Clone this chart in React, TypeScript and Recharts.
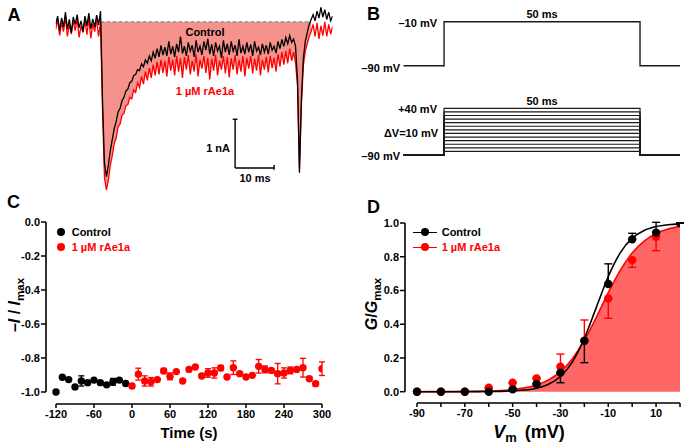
// Figure: rAe1a effect on Nav currents (panels A-D)

import React from 'react';
import {
  ComposedChart,
  LineChart,
  Line,
  Area,
  Scatter,
  ErrorBar,
  XAxis,
  YAxis,
  ReferenceLine,
} from 'recharts';

const FONT = '"Liberation Sans", Arial, Helvetica, sans-serif';
const RED = '#ff0000';
const BLACK = '#000000';

// ---- A: current traces (nA), one sample every 0.5 ms ----
const A_DT = 0.5;
const aControl = [
  -0.05, 0.12, -0.18, 0.08, -0.1, 0.2, -0.15, 0.05, -0.22, 0.1, -0.05, 0.15, -0.12, 0.02, -0.2, 0.12,
  -0.08, 0.18, -0.14, 0.06, -0.1, 0.14, -0.06, 0.22,
  -1.6, -2.9, -3.18, -2.95, -2.65, -2.42, -2.2, -2.05, -1.85, -1.78, -1.62, -1.55, -1.42, -1.38, -1.25,
  -1.22, -1.1, -1.08, -0.98, -1.0, -0.86, -0.92, -0.78, -0.85, -0.7, -0.8, -0.62, -0.75, -0.55, -0.72,
  -0.48, -0.68, -0.52, -0.7, -0.4, -0.66, -0.5, -0.72, -0.45, -0.62,
  -0.3, -0.65, -0.5, -0.7, -0.42, -0.6, -0.48, -0.72, -0.38, -0.62, -0.5, -0.68, -0.4, -0.58, -0.35,
  -0.66, -0.46, -0.7, -0.42, -0.6, -0.5, -0.74, -0.38, -0.62, -0.45, -0.68, -0.4, -0.6, -0.48, -0.7,
  -0.36, -0.64, -0.5, -0.66, -0.42, -0.62, -0.46, -0.7, -0.4, -0.6, -0.52, -0.68, -0.45, -0.62, -0.48,
  -0.66, -0.42, -0.58, -0.5, -0.64, -0.4, -0.55, -0.36, -0.5, -0.32, -0.45, -0.28, -0.42, -0.35, -0.5,
  -1.2, -3.1, -1.6, -0.75, -0.4, -0.22, -0.05, 0.05, 0.15, 0.02, 0.22, 0.08, 0.3, 0.1, 0.25, 0.05, 0.2,
  0.02, 0.12,
];
const aToxin = [
  -0.15, 0.05, -0.28, -0.02, -0.2, 0.1, -0.3, -0.05, -0.25, 0.02, -0.18, 0.06, -0.32, -0.08, -0.22,
  0.04, -0.26, 0.08, -0.34, -0.04, -0.2, 0.05, -0.3, 0.0,
  -1.8, -3.2, -3.45, -3.25, -2.95, -2.75, -2.5, -2.38, -2.15, -2.1, -1.92, -1.88, -1.72, -1.7, -1.55,
  -1.58, -1.4, -1.45, -1.25, -1.35, -1.12, -1.28, -1.02, -1.2, -0.95, -1.15, -0.88, -1.1, -0.82, -1.08,
  -0.78, -1.05, -0.8, -1.12, -0.72, -1.0, -0.78, -1.1, -0.7, -1.02,
  -0.75, -1.15, -0.72, -0.98, -0.68, -1.08, -0.8, -1.02, -0.66, -1.12, -0.78, -0.96, -0.7, -1.05,
  -0.74, -1.18, -0.76, -1.0, -0.68, -1.1, -0.8, -0.98, -0.7, -1.06, -0.72, -1.14, -0.75, -0.98, -0.68,
  -1.08, -0.78, -1.02, -0.7, -1.12, -0.74, -0.96, -0.7, -1.06, -0.76, -1.0, -0.68, -1.1, -0.78, -0.98,
  -0.72, -1.04, -0.7, -0.95, -0.74, -1.02, -0.66, -0.92, -0.62, -0.88, -0.6, -0.85, -0.55, -0.8,
  -0.62, -0.85,
  -1.3, -3.0, -1.7, -0.9, -0.6, -0.45, -0.3, -0.2, -0.05, -0.3, -0.02, -0.35, -0.08, -0.28, 0.0, -0.3,
  -0.05, -0.25, -0.1,
];
const aFillFrom = 11.5; // ms, shaded window
const aFillTo = 65.5;

// ---- B: voltage protocols ----
const bTimes = [0, 10.4, 60.4, 70.6]; // ms
const bHolding = -90;
const bTestPulse = -10;
const bFamilyLevels = [-80, -70, -60, -50, -40, -30, -20, -10, 0, 10, 20, 30, 40];

// ---- C: time course ----
const cTimeControl = [-120, -110, -100, -90, -80, -70, -60, -50, -40, -30, -20, -10];
const cControl = [-1.0, -0.913, -0.927, -0.97, -0.935, -0.945, -0.93, -0.945, -0.958, -0.94, -0.93, -0.95];
const cControlErr = [0, 0, 0, 0, 0.03, 0, 0, 0, 0, 0.02, 0, 0];
const cTimeToxin = [
  0, 10, 20, 30, 40, 50, 60, 70, 80, 90, 100, 110, 120, 130, 140, 150, 160, 170, 180, 190, 200, 210,
  220, 230, 240, 250, 260, 270, 280, 290, 300,
];
const cToxin = [
  -0.965, -0.895, -0.935, -0.94, -0.927, -0.876, -0.908, -0.88, -0.935, -0.867, -0.853, -0.906, -0.888,
  -0.888, -0.859, -0.912, -0.857, -0.892, -0.912, -0.902, -0.849, -0.867, -0.873, -0.892, -0.888,
  -0.873, -0.867, -0.857, -0.922, -0.951, -0.863,
];
const cToxinErr = [
  0.012, 0.035, 0.03, 0.025, 0, 0.015, 0.02, 0, 0, 0, 0, 0, 0.025, 0.03, 0.015, 0, 0.04, 0, 0, 0, 0.04,
  0.02, 0, 0.06, 0.03, 0.02, 0, 0.055, 0, 0.012, 0.04,
];
const cXTicks = [-120, -60, 0, 60, 120, 180, 240, 300];
const cYTicks = [0, -0.2, -0.4, -0.6, -0.8, -1.0];

// ---- D: G-V relationship ----
const dVolt = [-90, -80, -70, -60, -50, -40, -30, -20, -10, 0, 10, 20];
const dControl = [0, 0, 0, 0, 0.014, 0.046, 0.113, 0.302, 0.638, 0.903, 0.943, 1.0];
const dControlErr = [
  [0, 0], [0, 0], [0, 0], [0, 0], [0, 0], [0, 0], [0.06, 0], [0.13, 0], [0, 0.12], [0, 0.036], [0, 0.061], [0, 0],
];
const dToxin = [0, 0, 0, 0.024, 0.053, 0.079, 0.148, 0.3, 0.553, 0.78, 0.919, 1.0];
const dToxinErr = [
  [0, 0], [0, 0], [0, 0], [0, 0], [0, 0], [0, 0], [0, 0.075], [0, 0.125], [0.118, 0], [0.043, 0], [0.083, 0], [0, 0],
];
// Boltzmann fit curves, read every 5 mV
const dFitVolt = [
  -90, -85, -80, -75, -70, -65, -60, -55, -50, -45, -40, -35, -30, -25, -20, -15, -10, -5, 0, 5, 10, 15, 20,
];
const dFitControl = [
  0, 0, 0, 0.0001, 0.0002, 0.0005, 0.001, 0.002, 0.005, 0.01, 0.021, 0.044, 0.09, 0.177, 0.317, 0.5,
  0.683, 0.823, 0.91, 0.956, 0.979, 0.99, 0.995,
];
const dFitToxin = [
  0.0001, 0.0002, 0.0004, 0.0007, 0.0012, 0.0022, 0.004, 0.007, 0.013, 0.023, 0.04, 0.07, 0.119, 0.196,
  0.305, 0.441, 0.587, 0.719, 0.822, 0.893, 0.938, 0.964, 0.98,
];
const dXTicks = [-90, -80, -70, -60, -50, -40, -30, -20, -10, 0, 10, 20];
const dXLabels = [-90, -70, -50, -30, -10, 10];
const dYTicks = [0, 0.2, 0.4, 0.6, 0.8, 1.0];

// tables built from the arrays above
const aTable = aControl.map((v, i) => {
  const t = i * A_DT;
  return {
    t,
    black: v,
    red: aToxin[i],
    fill: t >= aFillFrom && t <= aFillTo ? aToxin[i] : null,
  };
});
const bTopData = bTimes.map((t, i) => ({ t, v: i === 1 ? bTestPulse : bHolding }));
const bFamilyData = bFamilyLevels.map((lvl) =>
  bTimes.map((t, i) => ({ t, v: i === 1 ? lvl : bHolding }))
);
const cControlData = cTimeControl.map((x, i) => ({ x, y: cControl[i], err: cControlErr[i] }));
const cToxinData = cTimeToxin.map((x, i) => ({ x, y: cToxin[i], err: cToxinErr[i] }));
const dControlData = dVolt.map((x, i) => ({ x, y: dControl[i], err: dControlErr[i] }));
const dToxinData = dVolt.map((x, i) => ({ x, y: dToxin[i], err: dToxinErr[i] }));
const dFitControlData = dFitVolt.map((x, i) => ({ x, y: dFitControl[i] }));
const dFitToxinData = dFitVolt.map((x, i) => ({ x, y: dFitToxin[i] }));

const tickStyle = { fill: '#000', fontSize: 11, fontWeight: 700, fontFamily: FONT };
const tickLineStyle = { stroke: '#000', strokeWidth: 1.5 };

const dot = (color: string, r: number) => (p: any) =>
  <circle cx={p.cx} cy={p.cy} r={r} fill={color} stroke="none" />;

const Txt = ({ x, y, anchor = 'middle', size = 11, color = BLACK, children, style }: any) => (
  <div
    style={{
      position: 'absolute',
      left: x,
      top: y,
      transform: `translate(${anchor === 'middle' ? '-50%' : anchor === 'end' ? '-100%' : '0'}, -50%)`,
      fontFamily: FONT,
      fontWeight: 700,
      fontSize: size,
      color,
      lineHeight: 1,
      whiteSpace: 'nowrap',
      ...style,
    }}
  >
    {children}
  </div>
);

const Sub = ({ children }: any) => (
  <span style={{ fontSize: '0.72em', position: 'relative', top: '0.32em' }}>{children}</span>
);

const LegendDot = ({ x, y, color, line }: any) => (
  <>
    {line && (
      <div style={{ position: 'absolute', left: x - 12, top: y - 0.75, width: 24, height: 1.5, background: color }} />
    )}
    <div
      style={{ position: 'absolute', left: x - 4, top: y - 4, width: 8, height: 8, borderRadius: 4, background: color }}
    />
  </>
);

const App = () => {
  return (
    <div
      style={{
        position: 'absolute',
        left: 0,
        top: 0,
        width: 685,
        height: 444,
        background: '#fff',
        overflow: 'hidden',
      }}
    >
      {/* A */}
      <div style={{ position: 'absolute', left: 0, top: 0 }}>
        <ComposedChart width={340} height={202} data={aTable} margin={{ top: 0, right: 7.4, bottom: 0, left: 55.7 }}>
          <XAxis dataKey="t" type="number" domain={[0, 71]} allowDataOverflow hide />
          <YAxis type="number" domain={[-3.7, 0.45]} allowDataOverflow hide />
          <Area
            dataKey="fill"
            type="linear"
            baseValue={0}
            fill="#f5928b"
            fillOpacity={1}
            stroke="none"
            isAnimationActive={false}
          />
          <ReferenceLine
            segment={[{ x: aFillFrom, y: 0 }, { x: aFillTo, y: 0 }]}
            stroke="#8a8a8a"
            strokeWidth={1.2}
            strokeDasharray="4 2"
          />
          <Line dataKey="red" type="linear" stroke={RED} strokeWidth={1.3} dot={false} isAnimationActive={false} />
          <Line dataKey="black" type="linear" stroke={BLACK} strokeWidth={1.3} dot={false} isAnimationActive={false} />
          {/* scale bar: 1 nA, 10 ms */}
          <ReferenceLine segment={[{ x: 46, y: -2 }, { x: 46, y: -3 }]} stroke="#000" strokeWidth={1.4} />
          <ReferenceLine segment={[{ x: 46, y: -3 }, { x: 56, y: -3 }]} stroke="#000" strokeWidth={1.4} />
          <ReferenceLine segment={[{ x: 45.4, y: -2 }, { x: 46.6, y: -2 }]} stroke="#000" strokeWidth={1.4} />
          <ReferenceLine segment={[{ x: 56, y: -2.94 }, { x: 56, y: -3.04 }]} stroke="#000" strokeWidth={1.4} />
        </ComposedChart>
      </div>

      {/* B top protocol */}
      <div style={{ position: 'absolute', left: 400, top: 0 }}>
        <LineChart width={285} height={80} data={bTopData} margin={{ top: 16.2, right: 5, bottom: 8.8, left: 3.3 }}>
          <XAxis dataKey="t" type="number" domain={[0, 70.6]} allowDataOverflow hide />
          <YAxis type="number" domain={[-100, 0]} allowDataOverflow hide />
          <Line dataKey="v" type="stepAfter" stroke="#1a1a1a" strokeWidth={1.4} dot={false} isAnimationActive={false} />
        </LineChart>
      </div>

      {/* B step family */}
      <div style={{ position: 'absolute', left: 400, top: 90 }}>
        <LineChart width={285} height={80} margin={{ top: 14.7, right: 5, bottom: 11.4, left: 3.3 }}>
          <XAxis dataKey="t" type="number" domain={[0, 70.6]} allowDataOverflow hide />
          <YAxis type="number" domain={[-100, 50]} allowDataOverflow hide />
          {bFamilyData.map((d, k) => (
            <Line
              key={k}
              data={d}
              dataKey="v"
              type="stepAfter"
              stroke="#1a1a1a"
              strokeWidth={1.2}
              dot={false}
              isAnimationActive={false}
            />
          ))}
        </LineChart>
      </div>

      {/* C */}
      <div style={{ position: 'absolute', left: 0, top: 190 }}>
        <ComposedChart width={340} height={254} margin={{ top: 32, right: 18, bottom: 10, left: 0 }}>
          <XAxis
            dataKey="x"
            type="number"
            domain={[-135.79, 300]}
            allowDataOverflow
            ticks={cXTicks}
            interval={0}
            axisLine={false}
            tickLine={tickLineStyle}
            tickSize={4}
            tickMargin={2}
            tick={tickStyle}
            height={30}
          />
          <YAxis
            dataKey="y"
            type="number"
            domain={[-1.0706, 0]}
            allowDataOverflow
            ticks={cYTicks}
            interval={0}
            axisLine={false}
            tickLine={tickLineStyle}
            tickSize={5}
            tickMargin={1}
            tick={tickStyle}
            width={46}
            tickFormatter={(v: number) => v.toFixed(1)}
          />
          <ReferenceLine
            segment={[{ x: -135.79, y: 0 }, { x: -135.79, y: -1 }]}
            stroke="#000"
            strokeWidth={1.6}
            ifOverflow="visible"
          />
          <ReferenceLine
            segment={[{ x: -120, y: -1.0706 }, { x: 300, y: -1.0706 }]}
            stroke="#000"
            strokeWidth={1.6}
            ifOverflow="visible"
          />
          <Scatter data={cControlData} dataKey="y" fill={BLACK} shape={dot(BLACK, 3.7)} isAnimationActive={false}>
            <ErrorBar dataKey="err" direction="y" width={3} stroke={BLACK} strokeWidth={1.3} />
          </Scatter>
          <Scatter data={cToxinData} dataKey="y" fill={RED} shape={dot(RED, 3.7)} isAnimationActive={false}>
            <ErrorBar dataKey="err" direction="y" width={3} stroke={RED} strokeWidth={1.3} />
          </Scatter>
        </ComposedChart>
      </div>

      {/* D */}
      <div style={{ position: 'absolute', left: 340, top: 190 }}>
        <ComposedChart width={345} height={254} margin={{ top: 33, right: 5, bottom: 11, left: 0 }}>
          <XAxis
            dataKey="x"
            type="number"
            domain={[-95.02, 20]}
            allowDataOverflow
            ticks={dXTicks}
            interval={0}
            axisLine={false}
            tickLine={tickLineStyle}
            tickSize={4}
            tickMargin={2}
            tick={tickStyle}
            height={30}
            tickFormatter={(v: number) => (dXLabels.includes(v) ? String(v) : '')}
          />
          <YAxis
            dataKey="y"
            type="number"
            domain={[-0.067, 1]}
            allowDataOverflow
            ticks={dYTicks}
            interval={0}
            axisLine={false}
            tickLine={tickLineStyle}
            tickSize={5}
            tickMargin={1}
            tick={tickStyle}
            width={65}
            tickFormatter={(v: number) => v.toFixed(1)}
          />
          <Area
            data={dFitToxinData}
            dataKey="y"
            type="monotone"
            baseValue={0}
            fill="#ff6666"
            fillOpacity={1}
            stroke="none"
            isAnimationActive={false}
          />
          <Line data={dFitToxinData} dataKey="y" type="monotone" stroke={RED} strokeWidth={1.6} dot={false} isAnimationActive={false} />
          <Line data={dFitControlData} dataKey="y" type="monotone" stroke={BLACK} strokeWidth={1.6} dot={false} isAnimationActive={false} />
          <ReferenceLine
            segment={[{ x: -95.02, y: 1 }, { x: -95.02, y: 0 }]}
            stroke="#000"
            strokeWidth={1.6}
            ifOverflow="visible"
          />
          <ReferenceLine
            segment={[{ x: -90, y: -0.067 }, { x: 20, y: -0.067 }]}
            stroke="#000"
            strokeWidth={1.6}
            ifOverflow="visible"
          />
          <Scatter data={dToxinData} dataKey="y" fill={RED} shape={dot(RED, 4.2)} isAnimationActive={false}>
            <ErrorBar dataKey="err" direction="y" width={4} stroke={RED} strokeWidth={1.4} />
          </Scatter>
          <Scatter data={dControlData} dataKey="y" fill={BLACK} shape={dot(BLACK, 4.2)} isAnimationActive={false}>
            <ErrorBar dataKey="err" direction="y" width={4} stroke={BLACK} strokeWidth={1.4} />
          </Scatter>
        </ComposedChart>
      </div>

      {/* panel letters */}
      <Txt x={14} y={14.5} size={18}>A</Txt>
      <Txt x={373.5} y={14} size={18}>B</Txt>
      <Txt x={13.5} y={201.5} size={18}>C</Txt>
      <Txt x={373.5} y={206.5} size={18}>D</Txt>

      {/* A labels */}
      <Txt x={205} y={31.5}>Control</Txt>
      <Txt x={205} y={90.5} color={RED}>1 µM rAe1a</Txt>
      <Txt x={230} y={147.5} anchor="end">1 nA</Txt>
      <Txt x={255} y={177.5}>10 ms</Txt>

      {/* B labels */}
      <Txt x={437} y={23} anchor="end">–10 mV</Txt>
      <Txt x={400} y={67.5} anchor="end">–90 mV</Txt>
      <Txt x={542} y={14}>50 ms</Txt>
      <Txt x={542} y={100.5}>50 ms</Txt>
      <Txt x={437} y={108.5} anchor="end">+40 mV</Txt>
      <Txt x={438} y={133} anchor="end">ΔV=10 mV</Txt>
      <Txt x={400} y={155.5} anchor="end">–90 mV</Txt>

      {/* C legend and axis titles */}
      <LegendDot x={60.7} y={232.3} color={BLACK} />
      <Txt x={71.7} y={232.3} anchor="start">Control</Txt>
      <LegendDot x={60.7} y={247.3} color={RED} />
      <Txt x={71.7} y={247.3} anchor="start" color={RED}>1 µM rAe1a</Txt>
      <Txt x={189} y={431.5} size={15}>Time (s)</Txt>
      <Txt x={15} y={305} size={16} style={{ transform: 'translate(-50%, -50%) rotate(-90deg)' }}>
        –<i>I</i> / <i>I</i>
        <Sub>max</Sub>
      </Txt>

      {/* D legend and axis titles */}
      <LegendDot x={425} y={232.3} color={BLACK} line />
      <Txt x={441.7} y={232.3} anchor="start">Control</Txt>
      <LegendDot x={425} y={247.3} color={RED} line />
      <Txt x={441.7} y={247.3} anchor="start" color={RED}>1 µM rAe1a</Txt>
      <Txt x={529} y={432} size={18}>
        <i>V</i>
        <Sub>m</Sub>
        <span style={{ marginLeft: '0.45em' }}>(mV)</span>
      </Txt>
      <Txt x={372} y={304} size={16} style={{ transform: 'translate(-50%, -50%) rotate(-90deg)' }}>
        <i>G</i>/<i>G</i>
        <Sub>max</Sub>
      </Txt>
    </div>
  );
};

export default App;
